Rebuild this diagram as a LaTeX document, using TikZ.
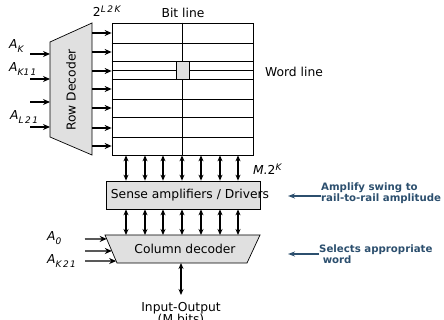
\documentclass[tikz,border=0pt]{standalone}
\usepackage{fontspec}
\setmainfont{DejaVu Sans}
\usepackage{tikz}
\usetikzlibrary{arrows.meta,calc}

\definecolor{notec}{HTML}{2C4F6E}
\newcommand{\addr}[1]{\textit{A}\raisebox{-3.5pt}{\small\textit{#1}}}

\begin{document}
\begin{tikzpicture}[
  x=1pt, y=-1pt,
  font=\fontsize{12.3}{14}\selectfont,
  arr/.style={-{Stealth[length=7pt,width=6pt]}, line width=1.2pt},
  darr/.style={{Stealth[length=6pt,width=5pt]}-{Stealth[length=6pt,width=5pt]}, line width=1.1pt},
  dec/.style={draw, fill=black!12, line width=0.7pt},
  box/.style={draw, fill=black!12, line width=0.7pt, inner sep=0pt},
  grid/.style={line width=0.7pt},
  note/.style={font=\fontsize{10.2}{11.5}\selectfont\bfseries, text=notec, align=left, inner sep=0pt},
  notearr/.style={-{Stealth[length=7pt,width=5pt]}, notec, line width=1.2pt}]
\useasboundingbox (0,0) rectangle (444,320);

% memory array
\node[draw, grid, minimum width=141pt, minimum height=132pt, inner sep=0pt] (mem) at (182.5,89) {};
\foreach \y in {43,61,70,79,99,117,137}
  \draw[grid] (mem.west |- 0,\y) -- (mem.east |- 0,\y);
\draw[grid] (mem.north) -- (mem.south);
\node[box, minimum width=13pt, minimum height=18pt] (cell) at (182.5,70) {};
\node (bit) at (183,13) {Bit line};
\node (word) at (294,72) {Word line};
\node (rows) at (107,11) {2\raisebox{4pt}{\small\textit{L\,2\,K}}};

% row decoder
\draw[dec] (50,42) coordinate (rdA) -- (92,23) coordinate (rdB)
  -- (92,155) coordinate (rdC) -- (50,137) coordinate (rdD) -- cycle;
\node[rotate=90] (rdtxt) at (71,90) {Row Decoder};
\foreach \y in {33,52,71,89,108,128,146}
  \draw[arr] (rdB |- 0,\y) -- (mem.west |- 0,\y);
\foreach \y in {54,79,102,127}
  \draw[arr] (30,\y) -- (rdA |- 0,\y);
\node[anchor=west, inner sep=0pt] (ak) at (9,46) {\addr{K}};
\node[anchor=west, inner sep=0pt] (ak1) at (9,69) {\addr{K1\,1}};
\node[anchor=west, inner sep=0pt] (al) at (10,117) {\addr{L\,2\,1}};

% sense amplifiers
\node[box, minimum width=154pt, minimum height=28pt] (sa) at (183,195) {};
\node (satxt) at (190,195) {Sense amplifiers / Drivers};
\foreach \x in {126,145,163,182,201,220,238}
  \draw[darr] (mem.south -| \x,0) -- (sa.north -| \x,0);
\node[anchor=west, inner sep=0pt] (m2k) at (253,169) {\textit{M.}2\raisebox{4pt}{\small\textit{K}}};

% column decoder
\draw[dec] (105,235) coordinate (cdA) -- (260,235) coordinate (cdB)
  -- (247,263) coordinate (cdC) -- (117,263) coordinate (cdD) -- cycle;
\node (cdtxt) at (185,249) {Column decoder};
\foreach \x in {126,145,163,182,201,220,238}
  \draw[darr] (sa.south -| \x,0) -- (cdA -| \x,0);
\foreach \t/\y in {0.14/239,0.57/251,0.93/261}
  \draw[arr] (85,\y) -- ($(cdA)!\t!(cdD)$);
\node[anchor=west, inner sep=0pt] (a0) at (47,238) {\addr{0}};
\node[anchor=west, inner sep=0pt] (ak2) at (47,261) {\addr{K\,2\,1}};

% input / output
\coordinate (io) at (181,295);
\draw[darr] (cdD -| 181,0) -- (io);
\node (iotxt) at (181,308) {Input-Output};
\node (mbits) at (181,320) {(M bits)};

% notes
\node[note, anchor=west] (n1) at (321,193) {Amplify swing to\\rail-to-rail amplitude};
\node[note, anchor=west] (n2) at (319,254) {Selects appropriate\\\ word};
\coordinate (t1) at (288,196);
\coordinate (t2) at (288,254);
\draw[notearr] (n1.west |- t1) -- (t1);
\draw[notearr] (n2.west |- t2) -- (t2);
\end{tikzpicture}
\end{document}
